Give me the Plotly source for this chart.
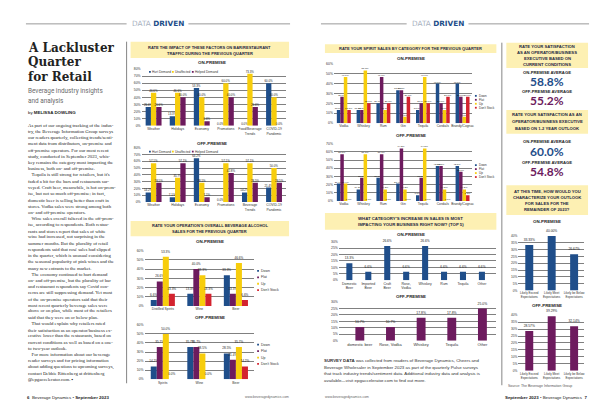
import plotly.graph_objects as go

W, H = 600, 403

# ---------------- DATA ----------------
impact_series = ["Hurt Demand", "Unaffected", "Helped Demand"]
impact_cats_on = ["Weather", "Holidays", "Economy", "Promotions", "Food/Beverage<br>Trends", "COVID-19<br>Pandemic"]
impact_on_hurt = [26.6, 13.3, 53.3, 0.0, 0.0, 60.0]
impact_on_same = [46.6, 46.6, 40.0, 60.0, 73.3, 40.0]
impact_on_help = [26.6, 40.0, 6.6, 40.0, 26.6, 0.0]
impact_cats_off = ["Weather", "Holidays", "Economy", "Promotions", "Beverage<br>Trends", "COVID-19<br>Pandemic"]
impact_off_hurt = [14.2, 7.1, 64.2, 0.0, 14.2, 21.4]
impact_off_same = [57.1, 35.7, 28.5, 57.1, 57.1, 50.0]
impact_off_help = [28.5, 57.1, 7.1, 42.8, 28.5, 28.5]

sales_series = ["Down", "Flat", "Up", "Don't Stock"]
sales_cats_on = ["Distilled Spirits", "Wine", "Beer"]
sales_on_down = [6.6, 13.3, 33.3]
sales_on_flat = [26.6, 40.0, 13.3]
sales_on_up = [53.3, 33.3, 46.6]
sales_on_dont = [13.3, 13.3, 6.6]
sales_cats_off = ["Spirits", "Wine", "Beer"]
sales_off_down = [14.2, 35.7, 28.5]
sales_off_flat = [35.7, 35.7, 21.4]
sales_off_up = [50.0, 28.5, 35.7]
sales_off_dont = [0.0, 0.0, 14.2]

spirit_cats = ["Vodka", "Whiskey", "Rum", "Gin", "Tequila", "Cordials", "Brandy/Cognac"]
spirit_on_down = [13.3, 13.3, 20.0, 33.3, 13.3, 40.0, 40.0]
spirit_on_flat = [26.6, 13.3, 46.6, 33.3, 20.0, 20.0, 26.6]
spirit_on_up = [46.6, 53.3, 13.3, 6.6, 46.6, 13.3, 6.6]
spirit_on_dont = [13.3, 20.0, 20.0, 26.6, 20.0, 26.6, 26.6]
spirit_off_down = [21.4, 14.2, 28.5, 21.4, 7.1, 42.8, 42.8]
spirit_off_flat = [57.1, 28.5, 57.1, 64.2, 28.5, 42.8, 35.7]
spirit_off_up = [21.4, 57.1, 14.2, 14.2, 64.2, 14.2, 14.2]
spirit_off_dont = [0.0, 0.0, 0.0, 0.0, 0.0, 0.0, 7.1]

top_cats_on = ["Domestic<br>Beer", "Imported<br>Beer", "Craft<br>Beer", "Rose,<br>Vodka", "Whiskey", "Rum", "Tequila", "Other"]
top_on = [13.3, 6.6, 26.6, 6.6, 26.6, 6.6, 6.6, 6.6]
top_cats_off = ["domestic beer", "Rose, Vodka", "Whiskey", "Tequila", "Other"]
top_off = [10.7, 10.7, 17.8, 17.8, 25.0]

outlook_cats = ["Likely Exceed<br>Expectations", "Likely Meet<br>Expectations", "Likely be Below<br>Expectations"]
outlook_on = [33.33, 40.00, 26.67]
outlook_off = [28.57, 39.29, 32.14]

sat_current_on = 58.8
sat_current_off = 55.2
sat_outlook_on = 60.0
sat_outlook_off = 54.8

body_lines = [
    "As part of our ongoing tracking of the indus-",
    "try, the Beverage Information Group surveys",
    "our readers quarterly, collecting trends/senti-",
    "ment data from distributors, on-premise and",
    "off-premise operators. For our most recent",
    "study, conducted in September 2023, whis-",
    "key remains the category most impacting the",
    "business, both on- and off-premise.",
    "\u00a0\u00a0\u00a0Tequila is still strong for retailers, but it's",
    "faded a bit for the bars and restaurants sur-",
    "veyed. Craft beer, meanwhile, is hot on-prem-",
    "ise, but not so much off-premise; in fact,",
    "domestic beer is selling better than craft in",
    "stores. Vodka sales were strong among both",
    "on- and off-premise operators.",
    "\u00a0\u00a0\u00a0Wine sales overall faltered in the off-prem-",
    "ise, according to respondents. Both restau-",
    "rants and stores report that sales of white",
    "wine had increased, not surprising in the",
    "summer months. But the plurality of retail",
    "respondents said that rosé sales had slipped",
    "in the quarter, which is unusual considering",
    "the seasonal popularity of pink wines and the",
    "many new entrants to the market.",
    "\u00a0\u00a0\u00a0The economy continued to hurt demand",
    "on- and off-premise, but the plurality of bar",
    "and restaurant respondents say Covid con-",
    "cerns are still suppressing demand. Yet most",
    "of the on-premise operators said that their",
    "most recent quarterly beverage sales were",
    "above or on plan, while most of the retailers",
    "said that they were on or below plan.",
    "\u00a0\u00a0\u00a0That would explain why retailers rated",
    "their satisfaction as an operator/business ex-",
    "ecutive lower than the restaurants, based on",
    "current conditions as well as based on a one-",
    "to two-year outlook.",
    "\u00a0\u00a0\u00a0For more information about our beverage",
    "reader surveys and for pricing information",
    "about adding questions to upcoming surveys,",
    "contact Debbie Rittenberg at drittenberg",
    "@epgaccelerator.com. \u25aa",
]

survey_lines = [
    "<b>SURVEY DATA</b> was collected from readers of Beverage Dynamics, Cheers and",
    "Beverage Wholesaler in September 2023 as part of the quarterly Pulse surveys",
    "that track industry trends/sentiment data. Additional industry data and analysis is",
    "available\u2014visit epgaccelerator.com to find out more.",
]

# ---------------- STYLE ----------------
BLUE = "#1f4e8a"
YELLOW = "#f7cd0c"
PURPLE = "#6d1b5e"
RED = "#d3232f"
BOXFILL = "#fdf0b3"
TITLE = "#1d2742"
SANS = "Liberation Sans"
SERIF = "Liberation Serif"


def X(px):
    return px / W


def Y(py):
    return 1 - py / H


fig = go.Figure()
axes = {}
ann = []
shp = []


def text(x, y, s, size, color="#222", bold=False, family=SANS, xanchor="center", yanchor="middle"):
    ann.append(dict(x=X(x), y=Y(y), xref="paper", yref="paper",
                    text=f"<b>{s}</b>" if bold else s, showarrow=False,
                    xanchor=xanchor, yanchor=yanchor, borderpad=0,
                    font=dict(size=size, color=color, family=family)))


def rect(x0, y0, x1, y1, fill):
    shp.append(dict(type="rect", xref="paper", yref="paper", x0=X(x0), x1=X(x1),
                    y0=Y(y1), y1=Y(y0), fillcolor=fill, line=dict(width=0), layer="below"))


def line(x0, y0, x1, y1, color="#444", width=0.7):
    shp.append(dict(type="line", xref="paper", yref="paper", x0=X(x0), x1=X(x1),
                    y0=Y(y0), y1=Y(y1), line=dict(color=color, width=width)))


def add_chart(n, cats, series, box, yrange, dtick, barw, xrange=None, fmt="%{y:.1f}%",
              tick_size=3.4, cat_size=3.4, lab_size=3.1):
    x0, x1, yt, yb = box
    xn = "x" if n == 1 else f"x{n}"
    yn = "y" if n == 1 else f"y{n}"
    k = len(series)
    for i, (name, vals, color) in enumerate(series):
        fig.add_trace(go.Bar(
            x=cats, y=vals, name=name, xaxis=xn, yaxis=yn,
            marker=dict(color=color, line=dict(width=0)),
            width=barw, offset=-k * barw / 2 + i * barw,
            texttemplate=fmt, textposition="outside", textangle=0,
            constraintext="none", cliponaxis=False,
            textfont=dict(size=lab_size, color="#222", family=SANS),
            hoverinfo="skip"))
    suffix = "" if n == 1 else str(n)
    axes["xaxis" + suffix] = dict(
        domain=[X(x0), X(x1)], anchor=yn, type="category",
        range=xrange if xrange else [-0.5, len(cats) - 0.5],
        tickmode="array", tickvals=cats, ticktext=cats,
        showgrid=False, zeroline=False, showline=False, ticks="",
        tickfont=dict(size=cat_size, color="#333", family=SANS), fixedrange=True)
    axes["yaxis" + suffix] = dict(
        domain=[Y(yb), Y(yt)], anchor=xn, range=yrange,
        tickmode="linear", tick0=0, dtick=dtick, ticksuffix="%",
        showgrid=True, gridcolor="#808080", gridwidth=0.5,
        zeroline=False, showline=False, ticks="",
        tickfont=dict(size=tick_size, color="#333", family=SANS), fixedrange=True)


def legend_h(xs, y, names, colors, size=3.2):
    for x, nm, c in zip(xs, names, colors):
        rect(x, y - 0.9, x + 1.8, y + 0.9, c)
        text(x + 2.4, y, nm, size, "#333", xanchor="left")


def legend_v(x, ys, names, colors, size=3.2):
    for y, nm, c in zip(ys, names, colors):
        rect(x, y - 0.9, x + 1.8, y + 0.9, c)
        text(x + 2.6, y, nm, size, "#333", xanchor="left")


def box_title(x0, x1, y0, y1, lines, ys, size=4.0):
    rect(x0, y0, x1, y1, BOXFILL)
    for s, yy in zip(lines, ys):
        text((x0 + x1) / 2, yy, s, size, TITLE, bold=True)


# ---------------- HEADERS / PAGE ----------------
text(150, 14, '<span style="color:#a9b2bf">DATA</span> <b>DRIVEN</b>', 7.3, BLUE, family="DejaVu Sans")
line(18, 14, 119, 14, "#555", 0.6)
line(181, 14, 283, 14, "#555", 0.6)
text(431, 14, '<span style="color:#a9b2bf">DATA</span> <b>DRIVEN</b>', 7.3, BLUE, family="DejaVu Sans")
line(314, 14, 400, 14, "#555", 0.6)
line(462, 14, 583, 14, "#555", 0.6)

line(119, 32, 119, 377, "#333", 0.6)
line(495.5, 33, 495.5, 379, "#333", 0.6)

text(19, 38, "A Lackluster", 12, "#222", bold=True, family="DejaVu Serif", xanchor="left")
text(19, 53, "Quarter", 12, "#222", bold=True, family="DejaVu Serif", xanchor="left")
text(19, 68, "for Retail", 12, "#222", bold=True, family="DejaVu Serif", xanchor="left")
text(19.5, 82, "Beverage industry insights", 6.4, "#6b6b6b", family="Roboto", xanchor="left")
text(19.5, 91.5, "and analysis", 6.4, "#6b6b6b", family="Roboto", xanchor="left")
text(19.5, 104, "by <b>MELISSA DOWLING</b>", 4.4, "#222", xanchor="left")

for i, s in enumerate(body_lines):
    text(19.5, 117 + i * 6.25, s, 4.75, "#222", family=SERIF, xanchor="left")

for i, s in enumerate(survey_lines):
    text(316, 354 + i * 6.7, s, 4.4, "#333", xanchor="left")

text(18, 391.5, "<b>6</b>\u00a0\u00a0Beverage Dynamics \u2022 <b>September 2023</b>", 4.4, "#222", xanchor="left")
text(260, 390.5, "www.beveragedynamics.com", 3.4, "#666")
text(340, 390.5, "www.beveragedynamics.com", 3.4, "#666")
text(582, 391.5, "<b>September 2023</b> \u2022 Beverage Dynamics\u00a0\u00a0<b>7</b>", 4.4, "#222", xanchor="right")
text(501, 379.5, "Source: The Beverage Information Group", 3.5, "#555", xanchor="left")

# ---------------- CHART A / B ----------------
box_title(123, 282, 32, 48.5,
          ["RATE THE IMPACT OF THESE FACTORS ON BAR/RESTAURANT", "TRAFFIC DURING THE PREVIOUS QUARTER"],
          [37.5, 43.8])
text(205, 53, "ON-PREMISE", 4.4, "#222", bold=True)
add_chart(1, impact_cats_on,
          [(impact_series[0], impact_on_hurt, BLUE), (impact_series[1], impact_on_same, YELLOW),
           (impact_series[2], impact_on_help, PURPLE)],
          (134, 279, 59.5, 117), [0, 80], 10, 0.22, lab_size=2.9)
legend_h([141.5, 164.5, 184.5], 62.5, impact_series, [BLUE, YELLOW, PURPLE])

text(205, 135, "OFF-PREMISE", 4.4, "#222", bold=True)
add_chart(2, impact_cats_off,
          [(impact_series[0], impact_off_hurt, BLUE), (impact_series[1], impact_off_same, YELLOW),
           (impact_series[2], impact_off_help, PURPLE)],
          (134, 279, 139, 194), [0, 80], 10, 0.22, lab_size=2.9)
legend_h([141.5, 164.5, 184.5], 143, impact_series, [BLUE, YELLOW, PURPLE])

# ---------------- CHART C / D ----------------
box_title(123, 282, 213, 228.5,
          ["RATE YOUR OPERATION'S OVERALL BEVERAGE ALCOHOL", "SALES FOR THE PREVIOUS QUARTER"],
          [217.5, 223.8])
text(203, 233.5, "ON-PREMISE", 4.4, "#222", bold=True)
sales_colors = [BLUE, PURPLE, YELLOW, RED]
add_chart(3, sales_cats_on,
          [(sales_series[0], sales_on_down, BLUE), (sales_series[1], sales_on_flat, PURPLE),
           (sales_series[2], sales_on_up, YELLOW), (sales_series[3], sales_on_dont, RED)],
          (137, 247, 243, 299), [0, 60], 10, 0.165)
legend_v(250, [263.5, 270, 276.5, 283], sales_series, sales_colors, 3.5)

text(203, 310.5, "OFF-PREMISE", 4.4, "#222", bold=True)
add_chart(4, sales_cats_off,
          [(sales_series[0], sales_off_down, BLUE), (sales_series[1], sales_off_flat, PURPLE),
           (sales_series[2], sales_off_up, YELLOW), (sales_series[3], sales_off_dont, RED)],
          (137, 247, 318, 373), [0, 60], 10, 0.165)
legend_v(250, [338, 344.5, 351, 357.5], sales_series, sales_colors, 3.5)

# ---------------- CHART E / F ----------------
box_title(318, 490, 34.5, 43.5,
          ["RATE YOUR SPIRIT SALES BY CATEGORY FOR THE PREVIOUS QUARTER"], [39])
text(404, 49, "ON-PREMISE", 4.4, "#222", bold=True)
add_chart(5, spirit_cats,
          [(sales_series[0], spirit_on_down, BLUE), (sales_series[1], spirit_on_flat, PURPLE),
           (sales_series[2], spirit_on_up, YELLOW), (sales_series[3], spirit_on_dont, RED)],
          (327, 466, 54.3, 114.3), [0, 60], 10, 0.176, lab_size=2.5, cat_size=3.3)
legend_v(468.5, [86.7, 90.7, 94.7, 98.7], sales_series, sales_colors, 3.0)

text(404, 127, "OFF-PREMISE", 4.4, "#222", bold=True)
add_chart(6, spirit_cats,
          [(sales_series[0], spirit_off_down, BLUE), (sales_series[1], spirit_off_flat, PURPLE),
           (sales_series[2], spirit_off_up, YELLOW), (sales_series[3], spirit_off_dont, RED)],
          (327, 466, 135, 193), [0, 70], 10, 0.176, lab_size=2.5, cat_size=3.3)
legend_v(468.5, [156.7, 160.7, 164.7, 168.7], sales_series, sales_colors, 3.0)

# ---------------- CHART G / H ----------------
box_title(318, 490, 205, 222,
          ["WHAT CATEGORY'S INCREASE IN SALES IS MOST", "IMPACTING YOUR BUSINESS RIGHT NOW? (TOP 5)"],
          [210.3, 216.8], size=4.3)
text(404, 226.5, "ON-PREMISE", 4.4, "#222", bold=True)
add_chart(7, top_cats_on, [("On-Premise", top_on, BLUE)],
          (332, 490, 234, 273), [0, 30], 5, 0.32, xrange=[-0.553, 7.763], cat_size=3.5, lab_size=3.2)

text(404, 289, "OFF-PREMISE", 4.4, "#222", bold=True)
add_chart(8, top_cats_off, [("Off-Premise", top_off, PURPLE)],
          (332, 490, 295, 334), [0, 30], 5, 0.29, xrange=[-0.683, 4.455], cat_size=4.0, lab_size=3.4)

# ---------------- RIGHT COLUMN ----------------
box_title(500, 582, 33, 58.5,
          ["RATE YOUR SATISFACTION", "AS AN OPERATOR/BUSINESS", "EXECUTIVE BASED ON", "CURRENT CONDITIONS"],
          [36.5, 42.8, 49.1, 55.4], size=4.2)
text(541, 62.7, "ON-PREMISE AVERAGE", 4.2, "#222", bold=True)
text(541, 72.3, f"{sat_current_on:.1f}%", 12, BLUE, bold=True, family="Lato")
text(541, 82, "OFF-PREMISE AVERAGE", 4.2, "#222", bold=True)
text(541, 91, f"{sat_current_off:.1f}%", 12, PURPLE, bold=True, family="Lato")

box_title(500, 582, 101, 125,
          ["RATE YOUR SATISFACTION AS AN", "OPERATOR/BUSINESS EXECUTIVE", "BASED ON 1-2 YEAR OUTLOOK"],
          [106, 112.7, 119.3], size=4.2)
text(541, 133.3, "ON-PREMISE AVERAGE", 4.2, "#222", bold=True)
text(541, 142.6, f"{sat_outlook_on:.1f}%", 12, BLUE, bold=True, family="Lato")
text(541, 154.3, "OFF-PREMISE AVERAGE", 4.2, "#222", bold=True)
text(541, 163, f"{sat_outlook_off:.1f}%", 12, PURPLE, bold=True, family="Lato")

box_title(500, 582, 177, 207,
          ["AT THIS TIME, HOW WOULD YOU", "CHARACTERIZE YOUR OUTLOOK", "FOR SALES FOR THE", "REMAINDER OF 2023?"],
          [183.3, 189.3, 195.3, 201.3], size=4.2)

text(541, 213.3, "ON-PREMISE", 4.4, "#222", bold=True)
add_chart(9, outlook_cats, [("On-Premise", outlook_on, BLUE)],
          (512, 578, 228.3, 283.3), [0, 40], 5, 0.355, xrange=[-0.489, 2.444],
          fmt="%{y:.2f}%", cat_size=3.0, lab_size=3.3, tick_size=3.2)

text(541, 298.3, "OFF-PREMISE", 4.4, "#222", bold=True)
add_chart(10, outlook_cats, [("Off-Premise", outlook_off, PURPLE)],
          (512, 578, 308.3, 364.3), [0, 40], 5, 0.355, xrange=[-0.489, 2.444],
          fmt="%{y:.2f}%", cat_size=3.0, lab_size=3.3, tick_size=3.2)

fig.update_layout(
    width=W, height=H, margin=dict(l=0, r=0, t=0, b=0),
    paper_bgcolor="white", plot_bgcolor="rgba(0,0,0,0)",
    showlegend=False, annotations=ann, shapes=shp,
    font=dict(family=SANS), **axes)

fig.write_html("out.html")
